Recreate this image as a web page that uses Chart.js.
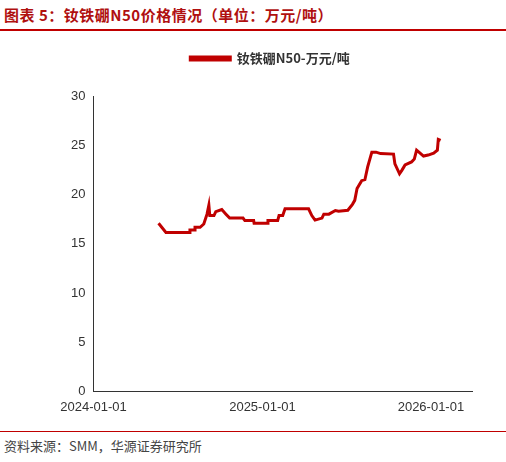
<!DOCTYPE html><html><head><meta charset="utf-8">
<script src="https://cdn.jsdelivr.net/npm/chart.js@4"></script>
<style>
body{margin:0;width:506px;height:462px;background:#fff;font-family:"Noto Sans CJK SC",sans-serif;position:relative;overflow:hidden}
#t{position:absolute;left:4px;top:4px;font-size:15px;font-weight:bold;color:#b01010;letter-spacing:0.5px}
#l1{position:absolute;left:0;top:29px;width:506px;height:2px;background:#c00000}
#l2{position:absolute;left:0;top:431px;width:506px;height:1px;background:#c00000}
#s{position:absolute;left:4px;top:436px;font-size:13px;color:#444}
#c{position:absolute;left:0;top:36px;width:506px;height:394px}
</style></head><body>
<div id="t">图表 5：钕铁硼N50价格情况（单位：万元/吨）</div><div id="l1"></div>
<div id="c"><canvas id="cv"></canvas></div>
<div id="l2"></div><div id="s">资料来源：SMM，华源证券研究所</div>
<script>
const days=[141,157,209,209,220,220,231,239,246,250,252,261,265,278,287,295,324,328,347,348,377,378,399,402,410,415,466,473,480,495,499,510,524,531,551,561,566,571,581,588,594,603,612,622,650,653,663,668,675,689,695,700,705,715,725,737,745,747,752];
const prices=[17.07,16.15,16.15,16.4,16.4,16.67,16.67,17.0,18.0,18.9,17.86,17.86,18.26,18.47,18.0,17.6,17.6,17.35,17.35,17.07,17.07,17.35,17.35,17.86,17.86,18.54,18.54,17.86,17.4,17.6,18.0,18.0,18.37,18.3,18.4,19.0,19.4,20.6,21.4,21.5,22.8,24.3,24.3,24.15,24.1,23.1,22.1,22.45,23.0,23.3,23.6,24.5,24.3,23.9,24.0,24.2,24.5,25.6,25.5];
const tickDays=[0,366,731];
const tickLabels=['2024-01-01','2025-01-01','2026-01-01'];
const seriesName='钕铁硼N50-万元/吨';
Chart.defaults.font.family='"Liberation Sans",Arial,sans-serif';
Chart.defaults.font.size=13;Chart.defaults.color='#333';
new Chart(document.getElementById('cv'),{type:'line',
data:{datasets:[{label:seriesName,data:days.map((d,i)=>({x:d,y:prices[i]})),borderColor:'#c00000',backgroundColor:'#c00000',borderWidth:3,pointRadius:0,tension:0}]},
options:{responsive:true,maintainAspectRatio:false,animation:false,
layout:{padding:{left:68,right:34,top:0,bottom:12}},
plugins:{legend:{labels:{boxWidth:40,boxHeight:3,font:{size:13,weight:'bold',family:'"Noto Sans CJK SC"'},padding:16}},tooltip:{enabled:false}},
scales:{x:{type:'linear',min:0,max:820,afterBuildTicks:a=>{a.ticks=tickDays.map(v=>({value:v}))},
ticks:{callback:v=>tickLabels[tickDays.indexOf(v)],maxRotation:0,autoSkip:false},
grid:{display:false,drawTicks:true,tickLength:5,color:'#333'},border:{color:'#333'}},
y:{min:0,max:30,afterFit:a=>{},ticks:{stepSize:5},grid:{display:false,tickLength:5,color:'#333'},border:{color:'#333'}}}},
plugins:[{id:'gap',beforeInit(c){const f=c.legend.fit;c.legend.fit=function(){f.bind(this)();this.height+=21;};}}]});
</script></body></html>
